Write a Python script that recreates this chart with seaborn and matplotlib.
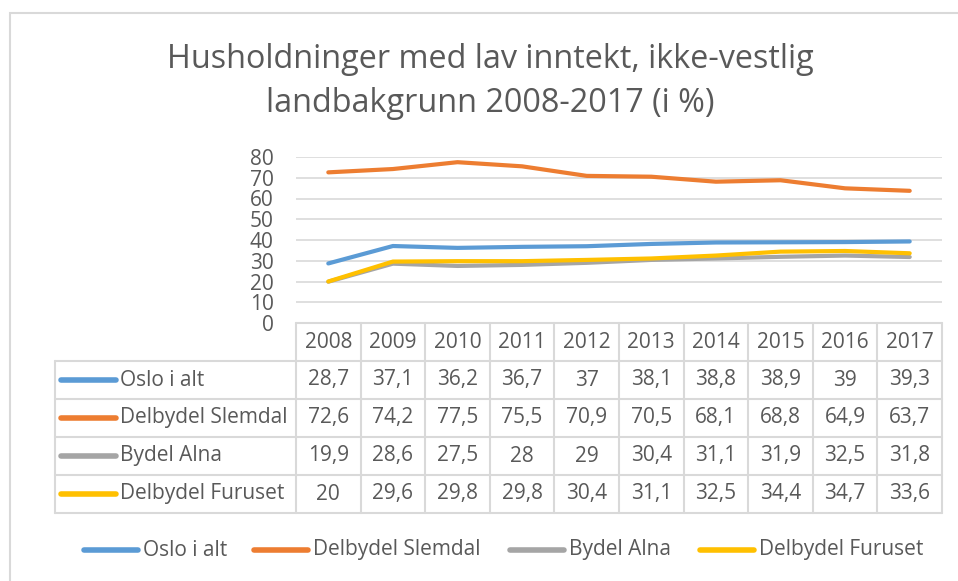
import matplotlib
matplotlib.use('Agg')
import matplotlib.pyplot as plt
import seaborn as sns
import pandas as pd
from matplotlib.patches import Rectangle

# Data
years = ['2008', '2009', '2010', '2011', '2012', '2013', '2014', '2015', '2016', '2017']
oslo = [28.7, 37.1, 36.2, 36.7, 37, 38.1, 38.8, 38.9, 39, 39.3]
slemdal = [72.6, 74.2, 77.5, 75.5, 70.9, 70.5, 68.1, 68.8, 64.9, 63.7]
alna = [19.9, 28.6, 27.5, 28, 29, 30.4, 31.1, 31.9, 32.5, 31.8]
furuset = [20, 29.6, 29.8, 29.8, 30.4, 31.1, 32.5, 34.4, 34.7, 33.6]
series_names = ['Oslo i alt', 'Delbydel Slemdal', 'Bydel Alna', 'Delbydel Furuset']
colors = ['#5B9BD5', '#ED7D31', '#A5A5A5', '#FFC000']

sns.set_style('white')
plt.rcParams['font.family'] = ['Open Sans', 'DejaVu Sans']
txt = '#595959'
grid = '#D9D9D9'
fs = 15

W, H = 958, 581
fig = plt.figure(figsize=(W / 100, H / 100), dpi=100)


def px(x0, y0, x1, y1):
    return [x0 / W, 1 - y1 / H, (x1 - x0) / W, (y1 - y0) / H]


# chart frame
fig.patches.append(Rectangle((10 / W, -0.1), 1.1, 1 - 13 / H + 0.1, transform=fig.transFigure,
                             fill=False, edgecolor=grid, linewidth=1.5))

fig.text(490 / W, 1 - 60 / H, 'Husholdninger med lav inntekt, ikke-vestlig', ha='center', va='center',
         fontsize=23.3, color=txt)
fig.text(490 / W, 1 - 103 / H, 'landbakgrunn 2008-2017 (i %)', ha='center', va='center',
         fontsize=23.3, color=txt)

# line plot
ax = fig.add_axes(px(296, 157, 942, 323))
df = pd.DataFrame({'x': list(range(len(years))) * 4,
                   'value': oslo + slemdal + alna + furuset,
                   'serie': [s for s in series_names for _ in years]})
sns.lineplot(data=df, x='x', y='value', hue='serie', palette=colors, linewidth=3,
             legend=False, ax=ax, solid_capstyle='round')
ax.set_xlim(-0.5, len(years) - 0.5)
ax.set_ylim(0, 80)
ax.set_yticks(range(0, 81, 10))
ax.set_xticks([])
ax.set_xlabel('')
ax.set_ylabel('')
ax.yaxis.grid(True, color=grid, linewidth=1.2)
ax.set_axisbelow(True)
for s in ax.spines.values():
    s.set_visible(False)
ax.tick_params(axis='y', length=0, labelsize=fs, labelcolor=txt, pad=16)

# data table
tab = fig.add_axes(px(55, 323, 942, 513))
lab_w = (296 - 55) / ((942 - 296) / len(years))
tab.set_xlim(-0.5 - lab_w, len(years) - 0.5)
tab.set_ylim(5, 0)
tab.axis('off')
lw = 1.5
# horizontal lines
tab.plot([-0.5, len(years) - 0.5], [0, 0], color=grid, lw=lw, clip_on=False)
for r in range(1, 6):
    tab.plot([-0.5 - lab_w, len(years) - 0.5], [r, r], color=grid, lw=lw, clip_on=False)
# vertical lines
tab.plot([-0.5 - lab_w, -0.5 - lab_w], [1, 5], color=grid, lw=lw, clip_on=False)
for c in range(len(years) + 1):
    tab.plot([c - 0.5, c - 0.5], [0, 5], color=grid, lw=lw, clip_on=False)

for i, y in enumerate(years):
    tab.text(i, 0.5, y, ha='center', va='center', fontsize=fs, color=txt)

all_vals = [oslo, slemdal, alna, furuset]
key_x0 = -0.5 - lab_w + 0.1
key_x1 = key_x0 + 0.85
for r, (name, vals, col) in enumerate(zip(series_names, all_vals, colors), start=1):
    tab.plot([key_x0, key_x1], [r + 0.5, r + 0.5], color=col, lw=4, solid_capstyle='round')
    tab.text(key_x1 + 0.05, r + 0.5, name, ha='left', va='center', fontsize=fs, color=txt)
    for i, v in enumerate(vals):
        s = ('%g' % v).replace('.', ',')
        tab.text(i, r + 0.5, s, ha='center', va='center', fontsize=fs, color=txt)

# legend below
leg_items = [(84, 'Oslo i alt'), (254, 'Delbydel Slemdal'), (510, 'Bydel Alna'), (700, 'Delbydel Furuset')]
for (x0, name), col in zip(leg_items, colors):
    fig.lines.append(plt.Line2D([x0 / W, (x0 + 54) / W], [1 - 550 / H] * 2, transform=fig.transFigure,
                                color=col, lw=4, solid_capstyle='round'))
    fig.text((x0 + 59) / W, 1 - 550 / H, name, ha='left', va='center', fontsize=fs, color=txt)

fig.savefig('out.png', dpi=100)
